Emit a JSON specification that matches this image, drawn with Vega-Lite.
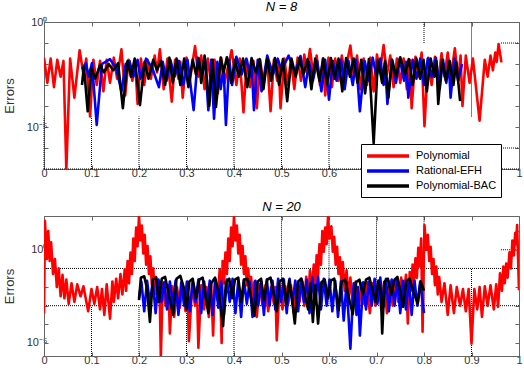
{
"$schema":"https://vega.github.io/schema/vega-lite/v6.json",
"padding":{"left":2,"top":0,"right":0,"bottom":0},
"spacing":21,
"config":{
 "font":"Liberation Sans",
 "view":{"stroke":"#666666","strokeWidth":1},
 "axis":{"grid":false,"domainColor":"#666666","tickColor":"#666666","labelColor":"#333333","labelFontSize":11,"labelFont":"Liberation Sans","titleFont":"Liberation Sans","titleFontWeight":"normal","titleFontSize":13,"titleColor":"#333333","tickSize":-4,"labelOverlap":false,"labelFlush":false},
 "title":{"fontSize":13,"fontStyle":"italic","fontWeight":"normal","offset":2,"color":"#000000","font":"Liberation Sans","anchor":"middle"}
},
"datasets":{
"gridTop":[{"x":0,"x2":0,"y":1e-7,"y2":3.16e-5},{"x":0.1,"x2":0.1,"y":1e-7,"y2":3.16e-5},{"x":0.2,"x2":0.2,"y":1e-7,"y2":3.16e-5},{"x":0.3,"x2":0.3,"y":1e-7,"y2":3.16e-5},{"x":0.4,"x2":0.4,"y":1e-7,"y2":3.16e-5},{"x":0.5,"x2":0.5,"y":1e-7,"y2":3.16e-5},{"x":0.6,"x2":0.6,"y":1e-7,"y2":3.16e-5},{"x":0.7,"x2":0.7,"y":1e-7,"y2":1.5e-6},{"x":0.8,"x2":0.8,"y":0.1,"y2":1},{"x":0.9,"x2":0.9,"y":3.16e-5,"y2":1},{"x":0.962,"x2":1,"y":0.1,"y2":0.1},{"x":0.962,"x2":1,"y":1e-6,"y2":1e-6},{"x":0,"x2":1,"y":1e-7,"y2":1e-7}],
"gridBot":[{"x":0,"x2":1,"y":0.1,"y2":0.1},{"x":0,"x2":1,"y":0.001,"y2":0.001},{"x":0.962,"x2":1,"y":1,"y2":1},{"x":0.1,"x2":0.1,"y":2e-6,"y2":0.001},{"x":0.2,"x2":0.2,"y":2e-6,"y2":0.001},{"x":0.3,"x2":0.3,"y":2e-6,"y2":0.001},{"x":0.4,"x2":0.4,"y":2e-6,"y2":0.001},{"x":0.5,"x2":0.5,"y":0.001,"y2":65},{"x":0.6,"x2":0.6,"y":0.001,"y2":65},{"x":0.7,"x2":0.7,"y":0.001,"y2":65},{"x":0.8,"x2":0.8,"y":0.001,"y2":65},{"x":0.9,"x2":0.9,"y":2e-6,"y2":0.1}],
"topP":[{"x":0,"y":0.02},{"x":0.007,"y":0.00126},{"x":0.014,"y":0.018},{"x":0.021,"y":0.00079},{"x":0.028,"y":0.016},{"x":0.035,"y":0.0025},{"x":0.041,"y":0.014},{"x":0.047,"y":1e-7},{"x":0.055,"y":0.018},{"x":0.064,"y":0.00025},{"x":0.075,"y":0.045},{"x":0.083,"y":0.0032},{"x":0.089,"y":0.018},{"x":0.097,"y":3.2e-5},{"x":0.104,"y":0.016},{"x":0.111,"y":0.001},{"x":0.118,"y":0.014},{"x":0.125,"y":0.0005},{"x":0.132,"y":0.016},{"x":0.139,"y":0.00126},{"x":0.147,"y":0.02},{"x":0.154,"y":0.002},{"x":0.163,"y":0.05},{"x":0.171,"y":0.00032},{"x":0.178,"y":0.016},{"x":0.186,"y":0.0016},{"x":0.192,"y":0.0126},{"x":0.197,"y":0.000126},{"x":0.204,"y":0.018},{"x":0.211,"y":0.001},{"x":0.218,"y":0.016},{"x":0.225,"y":0.002},{"x":0.233,"y":0.025},{"x":0.238,"y":0.004},{"x":0.244,"y":0.05},{"x":0.252,"y":0.00063},{"x":0.26,"y":0.018},{"x":0.269,"y":0.00016},{"x":0.276,"y":0.016},{"x":0.283,"y":0.002},{"x":0.287,"y":0.0126},{"x":0.292,"y":0.00025},{"x":0.3,"y":0.02},{"x":0.307,"y":0.0016},{"x":0.318,"y":0.071},{"x":0.325,"y":0.0025},{"x":0.331,"y":0.025},{"x":0.338,"y":0.00063},{"x":0.345,"y":0.018},{"x":0.352,"y":0.001},{"x":0.359,"y":0.016},{"x":0.366,"y":0.0004},{"x":0.373,"y":0.02},{"x":0.38,"y":0.00126},{"x":0.395,"y":0.045},{"x":0.405,"y":0.001},{"x":0.412,"y":0.018},{"x":0.42,"y":5e-5},{"x":0.427,"y":0.016},{"x":0.434,"y":0.00079},{"x":0.441,"y":0.014},{"x":0.448,"y":7.9e-5},{"x":0.455,"y":0.016},{"x":0.462,"y":0.001},{"x":0.47,"y":0.018},{"x":0.477,"y":5.6e-5},{"x":0.484,"y":0.016},{"x":0.491,"y":0.0016},{"x":0.494,"y":0.0126},{"x":0.498,"y":7.9e-5},{"x":0.506,"y":0.018},{"x":0.513,"y":0.001},{"x":0.52,"y":0.016},{"x":0.527,"y":0.00063},{"x":0.534,"y":0.02},{"x":0.541,"y":0.0016},{"x":0.548,"y":0.028},{"x":0.553,"y":0.004},{"x":0.56,"y":0.052},{"x":0.567,"y":0.0025},{"x":0.574,"y":0.025},{"x":0.581,"y":0.001},{"x":0.587,"y":0.018},{"x":0.592,"y":0.00032},{"x":0.599,"y":0.02},{"x":0.606,"y":0.00079},{"x":0.613,"y":0.018},{"x":0.62,"y":0.0016},{"x":0.627,"y":0.025},{"x":0.633,"y":0.0032},{"x":0.645,"y":0.076},{"x":0.652,"y":0.0025},{"x":0.659,"y":0.025},{"x":0.666,"y":0.00063},{"x":0.673,"y":0.018},{"x":0.68,"y":0.001},{"x":0.687,"y":0.02},{"x":0.694,"y":0.0005},{"x":0.701,"y":0.028},{"x":0.707,"y":0.004},{"x":0.715,"y":0.079},{"x":0.722,"y":0.0032},{"x":0.729,"y":0.025},{"x":0.736,"y":0.00079},{"x":0.743,"y":0.018},{"x":0.75,"y":0.00126},{"x":0.757,"y":0.018},{"x":0.764,"y":0.00063},{"x":0.77,"y":0.016},{"x":0.774,"y":7.9e-5},{"x":0.782,"y":0.022},{"x":0.788,"y":0.0025},{"x":0.795,"y":0.035},{"x":0.801,"y":1.1e-5},{"x":0.809,"y":0.02},{"x":0.816,"y":0.001},{"x":0.823,"y":0.022},{"x":0.83,"y":0.0016},{"x":0.837,"y":0.032},{"x":0.843,"y":0.0025},{"x":0.85,"y":0.035},{"x":0.856,"y":0.002},{"x":0.865,"y":0.056},{"x":0.872,"y":0.0016},{"x":0.877,"y":0.025},{"x":0.881,"y":0.0001},{"x":0.888,"y":0.025},{"x":0.896,"y":0.00126},{"x":0.903,"y":0.018},{"x":0.917,"y":2e-5},{"x":0.928,"y":0.016},{"x":0.934,"y":0.0025},{"x":0.94,"y":0.025},{"x":0.945,"y":0.005},{"x":0.95,"y":0.035},{"x":0.953,"y":0.0126},{"x":0.957,"y":0.089},{"x":0.963,"y":0.012}],
"topR":[{"x":0.08,"y":0.0056},{"x":0.088,"y":0.011},{"x":0.094,"y":0.0025},{"x":0.101,"y":0.011},{"x":0.111,"y":1.26e-5},{"x":0.122,"y":0.01},{"x":0.139,"y":0.017},{"x":0.152,"y":0.0063},{"x":0.163,"y":0.0005},{"x":0.172,"y":0.01},{"x":0.18,"y":0.014},{"x":0.188,"y":0.0025},{"x":0.197,"y":0.016},{"x":0.203,"y":0.002},{"x":0.215,"y":0.018},{"x":0.228,"y":0.0063},{"x":0.242,"y":0.00079},{"x":0.25,"y":0.0126},{"x":0.258,"y":0.0016},{"x":0.266,"y":0.016},{"x":0.275,"y":0.0025},{"x":0.284,"y":0.014},{"x":0.293,"y":0.001},{"x":0.302,"y":0.016},{"x":0.315,"y":6.3e-5},{"x":0.324,"y":0.02},{"x":0.333,"y":0.0032},{"x":0.339,"y":0.018},{"x":0.346,"y":6.3e-5},{"x":0.352,"y":0.016},{"x":0.358,"y":2.5e-5},{"x":0.365,"y":0.0126},{"x":0.372,"y":0.00063},{"x":0.378,"y":0.0079},{"x":0.383,"y":1.26e-5},{"x":0.39,"y":0.016},{"x":0.396,"y":0.001},{"x":0.405,"y":0.022},{"x":0.416,"y":0.0032},{"x":0.426,"y":0.018},{"x":0.434,"y":0.0025},{"x":0.437,"y":0.011},{"x":0.442,"y":6.3e-5},{"x":0.45,"y":0.016},{"x":0.458,"y":0.0005},{"x":0.47,"y":0.025},{"x":0.482,"y":0.0032},{"x":0.492,"y":0.018},{"x":0.5,"y":0.005},{"x":0.515,"y":0.025},{"x":0.528,"y":0.004},{"x":0.54,"y":0.024},{"x":0.55,"y":0.00079},{"x":0.558,"y":0.0126},{"x":0.566,"y":0.0016},{"x":0.575,"y":0.014},{"x":0.584,"y":0.0005},{"x":0.592,"y":0.016},{"x":0.6,"y":0.0002},{"x":0.608,"y":0.014},{"x":0.616,"y":0.0016},{"x":0.625,"y":0.016},{"x":0.633,"y":0.00063},{"x":0.641,"y":0.014},{"x":0.65,"y":0.001},{"x":0.657,"y":0.016},{"x":0.665,"y":5.6e-5},{"x":0.675,"y":0.014},{"x":0.684,"y":0.0016},{"x":0.692,"y":0.02},{"x":0.7,"y":0.0025},{"x":0.708,"y":0.018},{"x":0.715,"y":0.001},{"x":0.718,"y":0.011},{"x":0.723,"y":0.000126},{"x":0.732,"y":0.016},{"x":0.741,"y":0.00126},{"x":0.749,"y":0.018},{"x":0.758,"y":0.0016},{"x":0.762,"y":0.0126},{"x":0.767,"y":0.00025},{"x":0.776,"y":0.016},{"x":0.784,"y":0.002},{"x":0.792,"y":0.018},{"x":0.8,"y":0.001},{"x":0.808,"y":0.018},{"x":0.816,"y":0.0025},{"x":0.825,"y":0.02},{"x":0.833,"y":0.00063},{"x":0.84,"y":0.016},{"x":0.847,"y":0.00126},{"x":0.852,"y":0.014},{"x":0.856,"y":0.00025},{"x":0.864,"y":0.018},{"x":0.872,"y":0.0016},{"x":0.88,"y":0.01}],
"topB":[{"x":0.08,"y":0.001},{"x":0.084,"y":0.0079},{"x":0.092,"y":5.6e-5},{"x":0.1,"y":0.0063},{"x":0.108,"y":0.002},{"x":0.118,"y":0.0089},{"x":0.126,"y":0.004},{"x":0.136,"y":0.01},{"x":0.146,"y":0.005},{"x":0.156,"y":0.011},{"x":0.166,"y":7.9e-5},{"x":0.176,"y":0.014},{"x":0.183,"y":0.0025},{"x":0.191,"y":0.018},{"x":0.202,"y":0.00011},{"x":0.212,"y":0.0126},{"x":0.22,"y":0.002},{"x":0.23,"y":0.016},{"x":0.238,"y":0.005},{"x":0.246,"y":0.014},{"x":0.255,"y":0.001},{"x":0.264,"y":0.02},{"x":0.271,"y":0.00126},{"x":0.279,"y":0.018},{"x":0.287,"y":0.001},{"x":0.295,"y":0.018},{"x":0.304,"y":0.00079},{"x":0.313,"y":0.016},{"x":0.32,"y":0.0032},{"x":0.326,"y":0.018},{"x":0.331,"y":0.00126},{"x":0.338,"y":0.025},{"x":0.348,"y":0.0001},{"x":0.355,"y":0.016},{"x":0.362,"y":8.9e-5},{"x":0.372,"y":0.02},{"x":0.378,"y":0.004},{"x":0.385,"y":0.021},{"x":0.394,"y":0.00126},{"x":0.402,"y":0.016},{"x":0.41,"y":0.0025},{"x":0.419,"y":0.018},{"x":0.428,"y":0.00079},{"x":0.437,"y":0.019},{"x":0.446,"y":0.004},{"x":0.454,"y":0.017},{"x":0.462,"y":0.00063},{"x":0.47,"y":0.018},{"x":0.478,"y":0.0016},{"x":0.486,"y":0.019},{"x":0.495,"y":0.001},{"x":0.503,"y":0.017},{"x":0.512,"y":0.00017},{"x":0.521,"y":0.018},{"x":0.53,"y":0.0025},{"x":0.538,"y":0.019},{"x":0.546,"y":0.0032},{"x":0.555,"y":0.017},{"x":0.563,"y":0.00063},{"x":0.571,"y":0.018},{"x":0.58,"y":0.0016},{"x":0.588,"y":0.018},{"x":0.596,"y":0.001},{"x":0.604,"y":0.019},{"x":0.612,"y":0.002},{"x":0.62,"y":0.018},{"x":0.628,"y":0.0005},{"x":0.636,"y":0.019},{"x":0.644,"y":0.0025},{"x":0.652,"y":0.018},{"x":0.66,"y":0.00126},{"x":0.668,"y":0.016},{"x":0.676,"y":0.0004},{"x":0.684,"y":0.017},{"x":0.694,"y":1.7e-6},{"x":0.703,"y":0.016},{"x":0.712,"y":0.00126},{"x":0.718,"y":0.014},{"x":0.725,"y":0.00025},{"x":0.733,"y":0.016},{"x":0.741,"y":0.0025},{"x":0.75,"y":0.021},{"x":0.76,"y":0.0032},{"x":0.768,"y":0.017},{"x":0.776,"y":0.001},{"x":0.784,"y":0.018},{"x":0.792,"y":0.002},{"x":0.799,"y":0.016},{"x":0.806,"y":0.0005},{"x":0.814,"y":0.018},{"x":0.822,"y":0.0025},{"x":0.826,"y":0.014},{"x":0.83,"y":0.000126},{"x":0.838,"y":0.016},{"x":0.846,"y":0.0016},{"x":0.854,"y":0.014},{"x":0.862,"y":0.001},{"x":0.868,"y":0.0126},{"x":0.876,"y":0.00017}],
"botP":[{"x":0,"y":0.0004},{"x":0.002,"y":36},{"x":0.006,"y":0.32},{"x":0.009,"y":10},{"x":0.012,"y":0.25},{"x":0.015,"y":2.5},{"x":0.019,"y":0.05},{"x":0.023,"y":0.32},{"x":0.027,"y":0.01},{"x":0.031,"y":0.1},{"x":0.035,"y":0.0032},{"x":0.039,"y":0.045},{"x":0.043,"y":0.0025},{"x":0.047,"y":0.025},{"x":0.052,"y":0.00126},{"x":0.058,"y":0.016},{"x":0.064,"y":0.0016},{"x":0.07,"y":0.014},{"x":0.077,"y":0.0032},{"x":0.083,"y":0.011},{"x":0.093,"y":0.0005},{"x":0.1,"y":0.0079},{"x":0.106,"y":0.00126},{"x":0.112,"y":0.01},{"x":0.118,"y":0.00063},{"x":0.122,"y":0.0079},{"x":0.127,"y":0.00032},{"x":0.132,"y":0.014},{"x":0.139,"y":0.0002},{"x":0.144,"y":0.02},{"x":0.147,"y":0.0016},{"x":0.152,"y":0.028},{"x":0.156,"y":0.0025},{"x":0.161,"y":0.05},{"x":0.165,"y":0.004},{"x":0.17,"y":0.089},{"x":0.173,"y":0.0063},{"x":0.176,"y":0.25},{"x":0.179,"y":0.016},{"x":0.182,"y":0.71},{"x":0.185,"y":0.05},{"x":0.188,"y":4},{"x":0.191,"y":0.25},{"x":0.194,"y":15.8},{"x":0.197,"y":1.58},{"x":0.2,"y":63},{"x":0.203,"y":3.16},{"x":0.206,"y":20},{"x":0.209,"y":0.63},{"x":0.212,"y":6.3},{"x":0.215,"y":0.16},{"x":0.218,"y":1.58},{"x":0.221,"y":0.05},{"x":0.224,"y":0.45},{"x":0.227,"y":0.0126},{"x":0.23,"y":0.1},{"x":0.233,"y":0.004},{"x":0.236,"y":0.035},{"x":0.24,"y":0.0016},{"x":0.243,"y":0.02},{"x":0.246,"y":1.8e-6},{"x":0.25,"y":0.016},{"x":0.256,"y":0.001},{"x":0.262,"y":0.0126},{"x":0.265,"y":3.2e-5},{"x":0.27,"y":0.011},{"x":0.274,"y":0.00025},{"x":0.28,"y":0.01},{"x":0.286,"y":0.00079},{"x":0.292,"y":0.0126},{"x":0.298,"y":0.0005},{"x":0.302,"y":0.01},{"x":0.305,"y":1.26e-5},{"x":0.312,"y":0.0126},{"x":0.318,"y":0.001},{"x":0.322,"y":0.01},{"x":0.325,"y":5.6e-6},{"x":0.331,"y":0.0126},{"x":0.337,"y":0.00063},{"x":0.342,"y":0.01},{"x":0.347,"y":0.00025},{"x":0.352,"y":0.016},{"x":0.356,"y":2.5e-5},{"x":0.36,"y":0.025},{"x":0.365,"y":0.002},{"x":0.37,"y":0.089},{"x":0.374,"y":1e-5},{"x":0.376,"y":0.25},{"x":0.379,"y":0.016},{"x":0.382,"y":0.71},{"x":0.385,"y":0.05},{"x":0.388,"y":4},{"x":0.391,"y":0.25},{"x":0.394,"y":15.8},{"x":0.397,"y":1.58},{"x":0.4,"y":63},{"x":0.403,"y":3.16},{"x":0.406,"y":20},{"x":0.409,"y":0.63},{"x":0.412,"y":6.3},{"x":0.415,"y":0.16},{"x":0.418,"y":1.58},{"x":0.421,"y":0.05},{"x":0.424,"y":0.45},{"x":0.427,"y":0.0126},{"x":0.43,"y":0.1},{"x":0.433,"y":0.004},{"x":0.436,"y":0.035},{"x":0.44,"y":0.0016},{"x":0.443,"y":0.02},{"x":0.448,"y":0.00025},{"x":0.454,"y":0.014},{"x":0.46,"y":0.001},{"x":0.466,"y":0.0126},{"x":0.472,"y":0.0005},{"x":0.478,"y":0.01},{"x":0.484,"y":0.00126},{"x":0.487,"y":0.01},{"x":0.49,"y":1.4e-5},{"x":0.496,"y":0.0126},{"x":0.502,"y":0.00063},{"x":0.508,"y":0.011},{"x":0.514,"y":0.00126},{"x":0.52,"y":0.0126},{"x":0.526,"y":0.0004},{"x":0.532,"y":0.014},{"x":0.538,"y":0.0016},{"x":0.544,"y":0.02},{"x":0.548,"y":0.001},{"x":0.552,"y":0.035},{"x":0.556,"y":0.0025},{"x":0.56,"y":0.079},{"x":0.564,"y":0.0063},{"x":0.568,"y":0.16},{"x":0.571,"y":0.0126},{"x":0.574,"y":0.5},{"x":0.577,"y":0.04},{"x":0.58,"y":2},{"x":0.583,"y":0.16},{"x":0.586,"y":10},{"x":0.589,"y":0.79},{"x":0.592,"y":15.8},{"x":0.595,"y":2},{"x":0.598,"y":59},{"x":0.601,"y":4},{"x":0.605,"y":18.2},{"x":0.608,"y":0.79},{"x":0.611,"y":5},{"x":0.614,"y":0.16},{"x":0.617,"y":1.45},{"x":0.62,"y":0.05},{"x":0.623,"y":0.4},{"x":0.626,"y":0.016},{"x":0.629,"y":0.22},{"x":0.633,"y":0.0063},{"x":0.637,"y":0.079},{"x":0.641,"y":0.0025},{"x":0.645,"y":0.032},{"x":0.65,"y":0.001},{"x":0.656,"y":0.02},{"x":0.662,"y":0.0005},{"x":0.668,"y":0.016},{"x":0.674,"y":0.00126},{"x":0.68,"y":0.018},{"x":0.686,"y":0.0004},{"x":0.692,"y":0.016},{"x":0.698,"y":0.001},{"x":0.704,"y":0.018},{"x":0.71,"y":0.00063},{"x":0.716,"y":0.018},{"x":0.722,"y":0.0004},{"x":0.728,"y":0.02},{"x":0.734,"y":0.001},{"x":0.74,"y":0.025},{"x":0.746,"y":0.0016},{"x":0.752,"y":0.032},{"x":0.757,"y":0.0025},{"x":0.762,"y":0.045},{"x":0.766,"y":0.00011},{"x":0.77,"y":0.063},{"x":0.773,"y":0.0063},{"x":0.776,"y":0.16},{"x":0.779,"y":0.016},{"x":0.782,"y":0.35},{"x":0.785,"y":0.032},{"x":0.788,"y":1.26},{"x":0.791,"y":0.126},{"x":0.794,"y":4},{"x":0.797,"y":4e-5},{"x":0.801,"y":21},{"x":0.805,"y":1},{"x":0.808,"y":6.3},{"x":0.811,"y":0.25},{"x":0.814,"y":1.45},{"x":0.817,"y":0.05},{"x":0.82,"y":0.32},{"x":0.823,"y":0.0126},{"x":0.826,"y":0.126},{"x":0.829,"y":0.004},{"x":0.832,"y":0.035},{"x":0.837,"y":0.0016},{"x":0.843,"y":0.016},{"x":0.85,"y":0.00032},{"x":0.856,"y":0.0126},{"x":0.863,"y":0.0004},{"x":0.869,"y":0.01},{"x":0.876,"y":0.001},{"x":0.882,"y":0.0079},{"x":0.888,"y":0.0005},{"x":0.894,"y":0.0079},{"x":0.9,"y":9.3e-6},{"x":0.906,"y":0.0079},{"x":0.912,"y":0.00063},{"x":0.917,"y":0.01},{"x":0.922,"y":0.00025},{"x":0.928,"y":0.011},{"x":0.934,"y":0.001},{"x":0.94,"y":0.0126},{"x":0.947,"y":0.00063},{"x":0.952,"y":0.014},{"x":0.956,"y":0.00087},{"x":0.96,"y":0.054},{"x":0.964,"y":0.0063},{"x":0.967,"y":0.126},{"x":0.97,"y":0.016},{"x":0.973,"y":0.18},{"x":0.976,"y":0.032},{"x":0.98,"y":0.74},{"x":0.983,"y":0.1},{"x":0.986,"y":3.16},{"x":0.989,"y":0.5},{"x":0.992,"y":7.9},{"x":0.994,"y":2},{"x":0.996,"y":21},{"x":1,"y":0.0068}],
"botR":[{"x":0.2,"y":0.0025},{"x":0.205,"y":0.02},{"x":0.211,"y":0.0005},{"x":0.217,"y":0.022},{"x":0.223,"y":0.00126},{"x":0.229,"y":0.02},{"x":0.235,"y":0.0004},{"x":0.241,"y":0.025},{"x":0.247,"y":0.0016},{"x":0.253,"y":0.018},{"x":0.259,"y":0.00063},{"x":0.265,"y":0.02},{"x":0.271,"y":0.00126},{"x":0.277,"y":0.022},{"x":0.283,"y":0.00032},{"x":0.289,"y":0.018},{"x":0.295,"y":0.001},{"x":0.301,"y":0.02},{"x":0.307,"y":0.0005},{"x":0.313,"y":0.022},{"x":0.319,"y":0.0016},{"x":0.325,"y":0.025},{"x":0.331,"y":0.0004},{"x":0.337,"y":0.02},{"x":0.343,"y":0.001},{"x":0.349,"y":0.022},{"x":0.355,"y":0.00032},{"x":0.361,"y":0.025},{"x":0.367,"y":0.00079},{"x":0.373,"y":0.02},{"x":0.379,"y":0.00032},{"x":0.385,"y":0.025},{"x":0.391,"y":0.0016},{"x":0.397,"y":0.028},{"x":0.403,"y":0.0004},{"x":0.409,"y":0.022},{"x":0.415,"y":0.00025},{"x":0.421,"y":0.025},{"x":0.427,"y":0.00126},{"x":0.433,"y":0.02},{"x":0.439,"y":0.00025},{"x":0.445,"y":0.022},{"x":0.451,"y":0.001},{"x":0.457,"y":0.02},{"x":0.463,"y":0.00032},{"x":0.469,"y":0.025},{"x":0.475,"y":0.001},{"x":0.481,"y":0.022},{"x":0.487,"y":0.00063},{"x":0.493,"y":0.028},{"x":0.499,"y":0.0016},{"x":0.505,"y":0.025},{"x":0.511,"y":0.0004},{"x":0.517,"y":0.028},{"x":0.523,"y":0.00126},{"x":0.529,"y":0.022},{"x":0.535,"y":0.0005},{"x":0.541,"y":0.028},{"x":0.547,"y":0.0016},{"x":0.553,"y":0.025},{"x":0.559,"y":0.0004},{"x":0.565,"y":0.032},{"x":0.571,"y":0.00126},{"x":0.577,"y":0.035},{"x":0.583,"y":0.00063},{"x":0.589,"y":0.028},{"x":0.595,"y":0.001},{"x":0.601,"y":0.025},{"x":0.607,"y":0.0005},{"x":0.613,"y":0.022},{"x":0.619,"y":0.00025},{"x":0.625,"y":0.02},{"x":0.631,"y":0.00016},{"x":0.637,"y":0.018},{"x":0.645,"y":5e-6},{"x":0.652,"y":0.016},{"x":0.658,"y":0.00032},{"x":0.661,"y":0.01},{"x":0.665,"y":2.5e-5},{"x":0.672,"y":0.018},{"x":0.678,"y":0.00063},{"x":0.684,"y":0.02},{"x":0.69,"y":0.001},{"x":0.696,"y":0.028},{"x":0.702,"y":0.00126},{"x":0.708,"y":0.032},{"x":0.714,"y":0.00079},{"x":0.72,"y":0.028},{"x":0.726,"y":0.0005},{"x":0.732,"y":0.025},{"x":0.738,"y":0.001},{"x":0.744,"y":0.028},{"x":0.75,"y":0.0004},{"x":0.756,"y":0.022},{"x":0.762,"y":0.00063},{"x":0.768,"y":0.025},{"x":0.774,"y":0.00032},{"x":0.78,"y":0.022},{"x":0.786,"y":0.001},{"x":0.792,"y":0.02},{"x":0.8,"y":0.0004}],
"botB":[{"x":0.2,"y":0.002},{"x":0.204,"y":0.032},{"x":0.211,"y":0.038},{"x":0.217,"y":0.0079},{"x":0.223,"y":0.000135},{"x":0.229,"y":0.025},{"x":0.236,"y":0.032},{"x":0.242,"y":0.0016},{"x":0.248,"y":0.028},{"x":0.255,"y":0.035},{"x":0.262,"y":0.005},{"x":0.272,"y":0.00032},{"x":0.279,"y":0.028},{"x":0.287,"y":0.04},{"x":0.294,"y":0.01},{"x":0.3,"y":0.00063},{"x":0.306,"y":0.02},{"x":0.313,"y":0.028},{"x":0.32,"y":0.0025},{"x":0.327,"y":0.025},{"x":0.334,"y":0.032},{"x":0.34,"y":0.0032},{"x":0.346,"y":0.0004},{"x":0.352,"y":0.016},{"x":0.36,"y":0.032},{"x":0.368,"y":0.005},{"x":0.377,"y":7.9e-5},{"x":0.383,"y":0.018},{"x":0.39,"y":0.028},{"x":0.396,"y":0.0025},{"x":0.402,"y":0.025},{"x":0.409,"y":0.032},{"x":0.415,"y":0.0016},{"x":0.421,"y":0.025},{"x":0.428,"y":0.028},{"x":0.435,"y":0.0032},{"x":0.443,"y":0.00028},{"x":0.45,"y":0.02},{"x":0.457,"y":0.028},{"x":0.463,"y":0.002},{"x":0.47,"y":0.025},{"x":0.477,"y":0.032},{"x":0.484,"y":0.004},{"x":0.49,"y":0.0005},{"x":0.496,"y":0.02},{"x":0.503,"y":0.028},{"x":0.51,"y":0.00126},{"x":0.516,"y":0.022},{"x":0.522,"y":0.0025},{"x":0.528,"y":0.00011},{"x":0.535,"y":0.02},{"x":0.542,"y":0.028},{"x":0.549,"y":0.004},{"x":0.556,"y":0.00063},{"x":0.561,"y":0.016},{"x":0.566,"y":0.000135},{"x":0.571,"y":0.0126},{"x":0.577,"y":0.00011},{"x":0.584,"y":0.018},{"x":0.591,"y":0.025},{"x":0.598,"y":0.0025},{"x":0.604,"y":0.022},{"x":0.611,"y":0.028},{"x":0.616,"y":0.004},{"x":0.62,"y":0.00056},{"x":0.627,"y":0.02},{"x":0.634,"y":0.025},{"x":0.641,"y":0.0032},{"x":0.65,"y":0.00035},{"x":0.657,"y":0.018},{"x":0.664,"y":0.025},{"x":0.671,"y":0.004},{"x":0.678,"y":0.025},{"x":0.685,"y":0.032},{"x":0.692,"y":0.0063},{"x":0.698,"y":0.0016},{"x":0.704,"y":0.022},{"x":0.709,"y":0.0063},{"x":0.712,"y":3.2e-5},{"x":0.717,"y":0.02},{"x":0.724,"y":0.028},{"x":0.731,"y":0.004},{"x":0.738,"y":0.025},{"x":0.744,"y":0.035},{"x":0.75,"y":0.0063},{"x":0.756,"y":0.00087},{"x":0.763,"y":0.022},{"x":0.77,"y":0.028},{"x":0.778,"y":0.005},{"x":0.787,"y":0.00135},{"x":0.793,"y":0.02},{"x":0.8,"y":0.0063}]
},
"vconcat":[
{
 "width":475,"height":147,
 "title":{"text":"N = 8"},
 "layer":[
  {"data":{"name":"gridTop"},"mark":{"type":"rule","color":"#000000","strokeDash":[1,1],"strokeWidth":1},
   "encoding":{
    "x":{"field":"x","type":"quantitative","scale":{"domain":[0,1],"nice":false},"axis":{"orient":"top","labels":false,"title":null,"values":[0,0.1,0.2,0.3,0.4,0.5,0.6,0.7,0.8,0.9,1]}},
    "x2":{"field":"x2"},
    "y":{"field":"y","type":"quantitative","scale":{"type":"log","domain":[1e-7,1],"nice":false},"axis":{"orient":"right","labels":false,"title":null,"values":[1,0.1,0.01,0.001,0.0001,1e-5,1e-6,1e-7]}},
    "y2":{"field":"y2"}}},
  {"data":{"name":"topP"},"mark":{"type":"line","strokeWidth":2.6,"strokeJoin":"round","clip":true},
   "encoding":{
    "x":{"field":"x","type":"quantitative","scale":{"domain":[0,1],"nice":false},"axis":{"title":null,"values":[0,0.1,0.2,0.3,0.4,0.5,0.6,0.7,0.8,0.9,1],"labelExpr":"(datum.value > 0.65 && datum.value < 0.95) ? '' : format(datum.value, '~g')","labelPadding":2}},
    "y":{"field":"y","type":"quantitative","scale":{"type":"log","domain":[1e-7,1],"nice":false},"axis":{"title":"Errors","titlePadding":10,"labelPadding":1,"values":[1,0.1,0.01,0.001,0.0001,1e-5,1e-6,1e-7],"labelExpr":"abs(log(datum.value)/LN10) < 0.01 ? '10⁰' : (abs(log(datum.value)/LN10 + 5) < 0.01 ? '10⁻⁵' : '')"}},
    "color":{"datum":"Polynomial","scale":{"domain":["Polynomial","Rational-EFH","Polynomial-BAC"],"range":["#ff0000","#0000ff","#000000"]},
     "legend":{"orient":"none","legendX":317,"legendY":122,"title":null,"symbolType":"M-1,0H6","symbolSize":144,"symbolStrokeWidth":3.5,"labelFontSize":11,"labelColor":"#000000","labelFont":"Liberation Sans","strokeColor":"#000000","fillColor":"#ffffff","padding":4,"rowPadding":-1,"labelOffset":35,"zindex":1}}}},
  {"data":{"name":"topR"},"mark":{"type":"line","strokeWidth":2.6,"strokeJoin":"round","clip":true},
   "encoding":{
    "x":{"field":"x","type":"quantitative","scale":{"domain":[0,1],"nice":false},"axis":null},
    "y":{"field":"y","type":"quantitative","scale":{"type":"log","domain":[1e-7,1],"nice":false},"axis":null},
    "color":{"datum":"Rational-EFH"}}},
  {"data":{"name":"topB"},"mark":{"type":"line","strokeWidth":2.6,"strokeJoin":"round","clip":true},
   "encoding":{
    "x":{"field":"x","type":"quantitative","scale":{"domain":[0,1],"nice":false},"axis":null},
    "y":{"field":"y","type":"quantitative","scale":{"type":"log","domain":[1e-7,1],"nice":false},"axis":null},
    "color":{"datum":"Polynomial-BAC"}}}
 ],
 "resolve":{"axis":{"x":"independent","y":"independent"}}
},
{
 "width":475,"height":140,
 "title":{"text":"N = 20"},
 "layer":[
  {"data":{"name":"gridBot"},"mark":{"type":"rule","color":"#000000","strokeDash":[1,1],"strokeWidth":1},
   "encoding":{
    "x":{"field":"x","type":"quantitative","scale":{"domain":[0,1],"nice":false},"axis":{"orient":"top","labels":false,"title":null,"values":[0,0.1,0.2,0.3,0.4,0.5,0.6,0.7,0.8,0.9,1]}},
    "x2":{"field":"x2"},
    "y":{"field":"y","type":"quantitative","scale":{"type":"log","domain":[2e-6,65],"nice":false},"axis":{"orient":"right","labels":false,"title":null,"values":[10,1,0.1,0.01,0.001,0.0001,1e-5]}},
    "y2":{"field":"y2"}}},
  {"data":{"name":"botP"},"mark":{"type":"line","strokeWidth":2.6,"strokeJoin":"round","clip":true},
   "encoding":{
    "x":{"field":"x","type":"quantitative","scale":{"domain":[0,1],"nice":false},"axis":{"title":null,"values":[0,0.1,0.2,0.3,0.4,0.5,0.6,0.7,0.8,0.9,1],"format":"~g","labelPadding":2}},
    "y":{"field":"y","type":"quantitative","scale":{"type":"log","domain":[2e-6,65],"nice":false},"axis":{"title":"Errors","titlePadding":10,"labelPadding":1,"values":[10,1,0.1,0.01,0.001,0.0001,1e-5],"labelExpr":"abs(log(datum.value)/LN10) < 0.01 ? '10⁰' : (abs(log(datum.value)/LN10 + 5) < 0.01 ? '10⁻⁵' : '')"}},
    "color":{"datum":"Polynomial"}}},
  {"data":{"name":"botR"},"mark":{"type":"line","strokeWidth":2.6,"strokeJoin":"round","clip":true},
   "encoding":{
    "x":{"field":"x","type":"quantitative","scale":{"domain":[0,1],"nice":false},"axis":null},
    "y":{"field":"y","type":"quantitative","scale":{"type":"log","domain":[2e-6,65],"nice":false},"axis":null},
    "color":{"datum":"Rational-EFH"}}},
  {"data":{"name":"botB"},"mark":{"type":"line","strokeWidth":2.6,"strokeJoin":"round","clip":true},
   "encoding":{
    "x":{"field":"x","type":"quantitative","scale":{"domain":[0,1],"nice":false},"axis":null},
    "y":{"field":"y","type":"quantitative","scale":{"type":"log","domain":[2e-6,65],"nice":false},"axis":null},
    "color":{"datum":"Polynomial-BAC"}}}
 ],
 "resolve":{"axis":{"x":"independent","y":"independent"}}
}
]
}
